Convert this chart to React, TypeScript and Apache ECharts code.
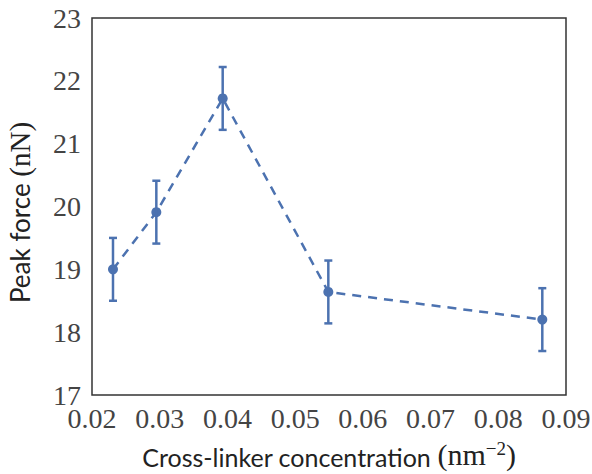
import React, { useEffect, useRef } from "react";
import * as echarts from "echarts";

const concentrations = [0.0231, 0.0295, 0.0393, 0.0549, 0.0865];
const peakForce = [19.0, 19.91, 21.72, 18.64, 18.2];
const errLow = [18.5, 19.41, 21.22, 18.14, 17.7];
const errHigh = [19.5, 20.41, 22.22, 19.14, 18.7];
const xTicks = [0.02, 0.03, 0.04, 0.05, 0.06, 0.07, 0.08, 0.09];
const yTicks = [17, 18, 19, 20, 21, 22, 23];

const BLUE = "#4C72B0";

export default function App() {
  const ref = useRef<HTMLDivElement>(null);
  useEffect(() => {
    if (!ref.current) return;
    const chart = echarts.init(ref.current, undefined, { renderer: "svg" });
    const lineData = concentrations.map((x, i) => [x, peakForce[i]]);
    const errData = concentrations.map((x, i) => [x, errLow[i], errHigh[i]]);
    const serif = "'Liberation Serif', 'DejaVu Serif', serif";
    const sans = "Lato, 'Open Sans', 'DejaVu Sans', sans-serif";
    chart.setOption({
      animation: false,
      backgroundColor: "#fff",
      grid: {
        left: 92,
        top: 18,
        right: 26,
        bottom: 79,
        outerBoundsMode: "none",
        containLabel: false,
        show: true,
        borderColor: "#333",
        borderWidth: 1.5,
        backgroundColor: "#fff",
      },
      xAxis: {
        type: "value",
        min: xTicks[0],
        max: xTicks[xTicks.length - 1],
        interval: 0.01,
        axisLine: { show: false },
        axisTick: { show: false },
        splitLine: { show: false },
        axisLabel: {
          fontFamily: serif,
          fontSize: 28,
          lineHeight: 22,
          color: "#444",
          margin: 12,
          formatter: (v: number) => v.toFixed(2),
        },
        name: "{a|Cross-linker concentration }{b|(nm}{s|−2}{b|)}",
        nameLocation: "middle",
        nameGap: 44,
        nameTextStyle: {
          rich: {
            a: { fontFamily: sans, fontSize: 25, color: "#222", verticalAlign: "bottom", lineHeight: 30 },
            b: { fontFamily: serif, fontSize: 30, color: "#222", verticalAlign: "bottom", lineHeight: 30 },
            s: { fontFamily: serif, fontSize: 19, color: "#222", verticalAlign: "top", lineHeight: 30 },
          },
        },
      },
      yAxis: {
        type: "value",
        min: yTicks[0],
        max: yTicks[yTicks.length - 1],
        interval: 1,
        axisLine: { show: false },
        axisTick: { show: false },
        splitLine: { show: false },
        axisLabel: {
          fontFamily: serif,
          fontSize: 28,
          lineHeight: 22,
          color: "#444",
          margin: 11,
          padding: [0, 0, 4, 0],
        },
        name: "{a|Peak force }{b|(nN)}",
        nameLocation: "middle",
        nameGap: 58,
        nameTextStyle: {
          padding: [0, 12, 0, 0],
          rich: {
            a: { fontFamily: sans, fontSize: 26, color: "#222" },
            b: { fontFamily: serif, fontSize: 29, color: "#222" },
          },
        },
      },
      series: [
        {
          type: "line",
          data: lineData,
          symbol: "circle",
          symbolSize: 10,
          itemStyle: { color: BLUE },
          lineStyle: { color: BLUE, width: 2.5, type: [9, 7] },
          z: 3,
        },
        {
          type: "custom",
          data: errData,
          z: 4,
          renderItem: (params: any, api: any) => {
            const x = api.value(0);
            const lo = api.coord([x, api.value(1)]);
            const hi = api.coord([x, api.value(2)]);
            const cap = 4;
            const style = { stroke: BLUE, lineWidth: 2.5 };
            return {
              type: "group",
              children: [
                { type: "line", shape: { x1: lo[0], y1: lo[1], x2: hi[0], y2: hi[1] }, style },
                { type: "line", shape: { x1: lo[0] - cap, y1: lo[1], x2: lo[0] + cap, y2: lo[1] }, style },
                { type: "line", shape: { x1: hi[0] - cap, y1: hi[1], x2: hi[0] + cap, y2: hi[1] }, style },
              ],
            };
          },
        },
      ],
    });
    return () => chart.dispose();
  }, []);
  return <div ref={ref} style={{ position: "fixed", left: 0, top: 0, width: 592, height: 474 }} />;
}
